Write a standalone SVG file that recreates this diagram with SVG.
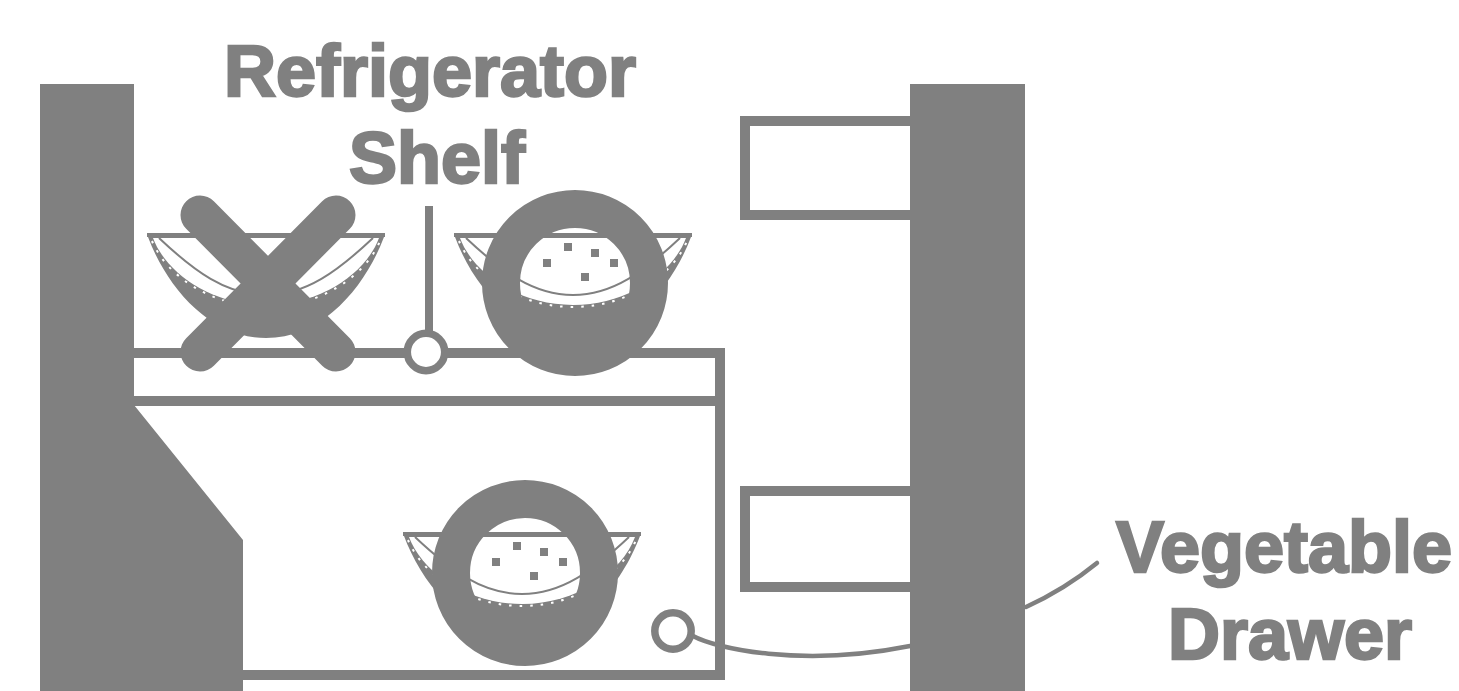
<svg xmlns="http://www.w3.org/2000/svg" width="1459" height="691" viewBox="0 0 1459 691">
<style>
.g{fill:#808080}
.l{fill:none;stroke:#808080;stroke-width:10}
.t{font-family:"Liberation Sans",Arial,sans-serif;font-weight:700;font-size:72px;fill:#808080;text-anchor:middle;stroke:#808080;stroke-width:2.5}
.c{fill:#fff;stroke:#808080;stroke-width:7.5}
.leader{fill:none;stroke:#808080;stroke-width:4.5;stroke-linecap:round}
.ring{fill:none;stroke:#808080;stroke-width:38}
</style>
<defs>
<g id="bowl">
<path class="g" d="M-119 0H119V4H118C100 52 58 105 0 105C-58 105 -100 52 -118 4H-119Z"/>
<path fill="#fff" d="M-113 5H113C100 40 55 72 0 72C-55 72 -100 40 -113 5Z"/>
<path d="M-107 5C-72 38 -40 62 0 62C40 62 72 38 107 5" fill="none" stroke="#808080" stroke-width="2"/>
<path d="M-114 8C-100 42 -55 74 0 74C55 74 100 42 114 8" fill="none" stroke="#fff" stroke-width="2" stroke-dasharray="2.5 8"/>
</g>
<g id="spots" class="g">
<rect x="-13" y="10" width="8" height="8"/><rect x="14" y="16" width="8" height="8"/><rect x="-34" y="26" width="8" height="8"/><rect x="33" y="26" width="8" height="8"/><rect x="4" y="40" width="8" height="8"/>
</g>
</defs>
<rect width="1459" height="691" fill="#fff"/>
<g id="bowl-left"><use href="#bowl" x="266" y="233"/></g>
<g id="cross-mark"><path d="M200 215L336 352M336 215L200 352" fill="none" stroke="#808080" stroke-width="39" stroke-linecap="round"/></g>
<g id="shelf-wall">
<path class="g" d="M40 84H134V405L243 540V691H40Z"/>
<path class="l" d="M134 353H720V675H243M134 401H720"/>
</g>
<g id="bowl-top"><use href="#bowl" x="573" y="233"/><use href="#spots" x="577" y="233"/><rect class="g" x="545" y="325" width="60" height="20"/><circle class="ring" cx="575" cy="283" r="74"/></g>
<g id="bowl-bottom"><use href="#bowl" x="522" y="532"/><use href="#spots" x="526" y="532"/><circle class="ring" cx="525" cy="573" r="74"/></g>
<g id="door">
<path class="l" d="M910 121H745V215H910M910 491H745V587H910"/>
<rect class="g" x="910" y="84" width="115" height="607"/>
</g>
<g id="connectors">
<path class="leader" style="stroke-width:8;stroke-linecap:butt" d="M429 206V335"/>
<path class="leader" d="M693 636C715 648 800 668 910 646"/>
<path class="leader" d="M1026 607C1050 596 1075 581 1097 563"/>
</g>
<g id="callouts"><circle class="c" cx="426" cy="352" r="18.7"/><circle class="c" cx="673" cy="631" r="18.2"/></g>
<g id="label-shelf"><text class="t" x="430" y="96">Refrigerator</text><text class="t" x="437" y="183">Shelf</text></g>
<g id="label-drawer"><text class="t" x="1284" y="572">Vegetable</text><text class="t" x="1290" y="659">Drawer</text></g>
</svg>
